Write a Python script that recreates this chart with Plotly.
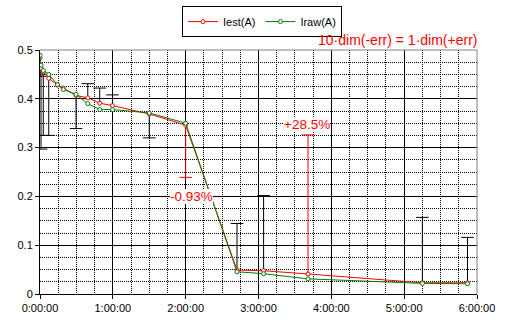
import plotly.graph_objects as go

# ---- data (hours, amps) ----
t_hours = [0, 0.014, 0.045, 0.12, 0.24, 0.32, 0.495, 0.656, 0.82, 0.995, 1.5, 2.0,
           2.705, 3.07, 3.68, 5.25, 5.87]
iest = [0.484, 0.463, 0.455, 0.442, 0.428, 0.422, 0.407, 0.402, 0.391, 0.386, 0.369, 0.346,
        0.049, 0.0477, 0.041, 0.023, 0.023]
iraw = [0.489, 0.469, 0.458, 0.450, 0.429, 0.419, 0.409, 0.390, 0.378, 0.378, 0.371, 0.350,
        0.0456, 0.0416, 0.031, 0.0218, 0.021]
# displayed error bar lengths (plus = up, minus = down), 0 = none
err_plus = [0, 0, 0, 0, 0, 0, 0, 0.029, 0.031, 0.022, 0, 0,
            0.0955, 0.154, 0.285, 0.134, 0.093]
err_minus = [0.038, 0.166, 0.13, 0.117, 0, 0, 0.068, 0, 0, 0, 0.049, 0.107,
             0, 0, 0, 0, 0]
highlight = [False] * 11 + [True] + [False] * 2 + [True] + [False] * 2
labels = {11: "-0.93%", 14: "+28.5%"}
label_pos = {11: (2.077, 0.2005), 14: (3.66, 0.3466)}
x_ticks = [0, 1, 2, 3, 4, 5, 6]
x_ticktext = ["0:00:00", "1:00:00", "2:00:00", "3:00:00", "4:00:00", "5:00:00", "6:00:00"]
note_text = "10·dim(-err) = 1·dim(+err)"

FONT = "Liberation Sans, Arial, sans-serif"

fig = go.Figure()

# error bars built from the data
for hl, col in [(False, "black"), (True, "red")]:
    sx, sy, cx, cy = [], [], [], []
    for i, t in enumerate(t_hours):
        if highlight[i] != hl:
            continue
        for e, sgn in [(err_plus[i], 1), (err_minus[i], -1)]:
            if e > 0:
                end = iest[i] + sgn * e
                sx += [t, t, None]
                sy += [iest[i], end, None]
                cx.append(t)
                cy.append(end)
    fig.add_trace(go.Scatter(x=sx, y=sy, mode="lines", line=dict(color=col, width=1),
                             showlegend=False, hoverinfo="skip"))
    fig.add_trace(go.Scatter(x=cx, y=cy, mode="markers",
                             marker=dict(symbol="line-ew", size=9, color=col,
                                         line=dict(color=col, width=1)),
                             showlegend=False, hoverinfo="skip"))

fig.add_trace(go.Scatter(x=t_hours, y=iest, name="Iest(A)", mode="lines+markers",
                         line=dict(color="#FF0000", width=1),
                         marker=dict(symbol="circle", size=4, color="white",
                                     line=dict(color="#FF0000", width=1))))
fig.add_trace(go.Scatter(x=t_hours, y=iraw, name="Iraw(A)", mode="lines+markers",
                         line=dict(color="#008000", width=1),
                         marker=dict(symbol="circle", size=4, color="white",
                                     line=dict(color="#008000", width=1))))

for i, txt in labels.items():
    lx, ly = label_pos[i]
    fig.add_annotation(x=lx, y=ly, text=txt, showarrow=False,
                       xanchor="center", yanchor="middle",
                       font=dict(family=FONT, size=13.5, color="#FF0000"),
                       bgcolor="white", borderpad=0, borderwidth=0)

fig.add_annotation(xref="paper", yref="paper", x=0.819, y=1.039, text=note_text,
                   showarrow=False, borderwidth=0, xanchor="center", yanchor="middle",
                   font=dict(family=FONT, size=14, color="#FF0000"))

# gray top/right plot border
fig.add_shape(type="line", xref="paper", yref="paper", x0=0, x1=1, y0=1, y1=1,
              line=dict(color="#808080", width=1))
fig.add_shape(type="line", xref="paper", yref="paper", x0=1, x1=1, y0=0, y1=1,
              line=dict(color="#808080", width=1))

DOT = "1px,1px"
fig.update_layout(
    width=511, height=335,
    margin=dict(l=40, r=34, t=50, b=41, autoexpand=False),
    paper_bgcolor="white", plot_bgcolor="white",
    font=dict(family=FONT, size=11, color="black"),
    showlegend=True,
    legend=dict(orientation="h", x=0.508, xanchor="center", y=1.18, yanchor="top",
                bordercolor="black", borderwidth=1, bgcolor="white",
                font=dict(family=FONT, size=11, color="black"), itemwidth=30,
                tracegroupgap=0),
    xaxis=dict(range=[0, 6], tickvals=x_ticks, ticktext=x_ticktext, automargin=False,
               showgrid=True, gridcolor="black", gridwidth=1,
               minor=dict(dtick=0.25, showgrid=True, gridcolor="black", griddash=DOT,
                          gridwidth=1),
               showline=True, linecolor="black", linewidth=1,
               ticks="outside", ticklen=4, tickcolor="black", zeroline=False,
               tickfont=dict(family=FONT, size=11, color="black")),
    yaxis=dict(range=[0, 0.5], dtick=0.1, tick0=0, automargin=False,
               showgrid=True, gridcolor="black", gridwidth=1,
               minor=dict(dtick=0.025, showgrid=True, gridcolor="black", griddash=DOT,
                          gridwidth=1),
               showline=True, linecolor="black", linewidth=1,
               ticks="outside", ticklen=4, tickcolor="black", zeroline=False,
               tickfont=dict(family=FONT, size=11, color="black")),
)

fig.write_html("out.html", config={"displayModeBar": False},
               post_script="document.body.style.margin='0';document.body.style.padding='0';")
